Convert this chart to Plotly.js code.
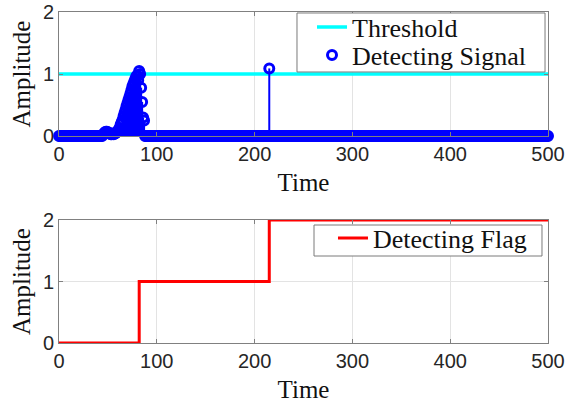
<!DOCTYPE html>
<html>
<head>
<meta charset="utf-8">
<script src="https://cdn.plot.ly/plotly-3.0.1.min.js"></script>
<style>html,body{margin:0;padding:0;background:#fff}#chart{width:565px;height:410px}</style>
</head>
<body>
<div id="chart"></div>
<script>
// ---- data ----
const timeStart = 0;
const timeEnd = 500;
// nonzero samples of the detecting signal (all other samples are 0)
const eventTime = [45,46,47,48,49,50,51,52,53,54,55,56,57,58,59,60,61,62,63,64,65,66,67,68,69,70,71,72,73,74,75,76,77,78,79,80,81,82,83,84,85,86,87,215];
const eventValue = [0.02,0.04,0.06,0.07,0.07,0.06,0.05,0.04,0.03,0.03,0.04,0.03,0.04,0.05,0.06,0.08,0.10,0.13,0.18,0.22,0.26,0.32,0.37,0.42,0.48,0.53,0.58,0.63,0.68,0.74,0.80,0.84,0.88,0.92,0.96,0.98,0.90,1.05,1.00,0.78,0.55,0.30,0.25,1.09];
const thresholdTime = [0, 500];
const thresholdValue = [1, 1];
const flagTime = [0, 82, 215, 500];
const flagValue = [0, 1, 2, 2];
const xTicks = [0, 100, 200, 300, 400, 500];
const yTicks = [0, 1, 2];

// ---- build full signal ----
const time = [];
const signal = [];
for (let t = timeStart; t <= timeEnd; t++) {
  time.push(t);
  const k = eventTime.indexOf(t);
  signal.push(k >= 0 ? eventValue[k] : 0);
}
const stemX = [], stemY = [];
for (let i = 0; i < time.length; i++) {
  if (signal[i] !== 0) { stemX.push(time[i], time[i], null); stemY.push(0, signal[i], null); }
}

const serif = "'Liberation Serif', 'Times New Roman', serif";
const sans = "'Liberation Sans', Arial, sans-serif";

const traces = [
  {x: thresholdTime, y: thresholdValue, type: 'scatter', mode: 'lines', name: 'Threshold',
   line: {color: '#00ffff', width: 3.5}, xaxis: 'x', yaxis: 'y', legend: 'legend'},
  {x: stemX, y: stemY, type: 'scatter', mode: 'lines', showlegend: false, hoverinfo: 'skip',
   line: {color: '#0000ff', width: 2}, xaxis: 'x', yaxis: 'y', cliponaxis: false},
  {x: time, y: signal, type: 'scatter', mode: 'markers', name: 'Detecting Signal',
   marker: {symbol: 'circle-open', size: 9, color: '#0000ff', line: {width: 3, color: '#0000ff'}},
   xaxis: 'x', yaxis: 'y', legend: 'legend3', cliponaxis: false},
  {x: flagTime, y: flagValue, type: 'scatter', mode: 'lines', name: 'Detecting Flag',
   line: {color: '#ff0000', width: 3, shape: 'hv'}, xaxis: 'x2', yaxis: 'y2', legend: 'legend2'}
];

function xAxis(anchor) {
  return {
    anchor: anchor, domain: [0, 1], range: [0, 500], tickvals: xTicks,
    showline: true, mirror: 'ticks', linecolor: '#808080', linewidth: 1,
    ticks: 'inside', ticklen: 4, tickcolor: '#808080',
    showgrid: true, gridcolor: '#e3e3e3', gridwidth: 1, zeroline: false,
    tickfont: {family: sans, size: 20, color: '#262626'},
    title: {text: 'Time', font: {family: serif, size: 25, color: '#111'}, standoff: 9},
    automargin: false
  };
}
function yAxis(anchor, domain) {
  return {
    anchor: anchor, domain: domain, range: [0, 2], tickvals: yTicks,
    showline: true, mirror: 'ticks', linecolor: '#808080', linewidth: 1,
    ticks: 'inside', ticklen: 4, tickcolor: '#808080',
    showgrid: true, gridcolor: '#e3e3e3', gridwidth: 1, zeroline: false,
    tickfont: {family: sans, size: 20, color: '#262626'},
    title: {text: 'Amplitude', font: {family: serif, size: 25, color: '#111'}, standoff: 5},
    automargin: false
  };
}

const legendFont = {family: serif, size: 26, color: '#111'};
function legendAt(x, y) {
  return {x: x, y: y, xanchor: 'left', yanchor: 'top', bgcolor: 'rgba(0,0,0,0)',
          borderwidth: 0, font: legendFont};
}

const layout = {
  width: 565, height: 410,
  margin: {l: 59, r: 17, t: 0, b: 67},
  paper_bgcolor: '#ffffff', plot_bgcolor: '#ffffff',
  showlegend: true,
  xaxis: xAxis('y'),
  yaxis: yAxis('x', [0.6035, 0.965]),
  xaxis2: xAxis('y2'),
  yaxis2: yAxis('x2', [0, 0.3586]),
  legend: legendAt(0.5174, 0.9898),
  legend3: legendAt(0.5174, 0.9082),
  legend2: legendAt(0.5603, 0.3746),
  shapes: [
    {type: 'rect', xref: 'paper', yref: 'paper', x0: 0.4867, x1: 0.9939, y0: 0.7901, y1: 0.9621,
     layer: 'above', fillcolor: '#ffffff', line: {color: '#7a7a7a', width: 1}},
    {type: 'rect', xref: 'paper', yref: 'paper', x0: 0.5215, x1: 0.9877, y0: 0.2536, y1: 0.344,
     layer: 'above', fillcolor: '#ffffff', line: {color: '#7a7a7a', width: 1}}
  ]
};

Plotly.newPlot('chart', traces, layout, {displayModeBar: false, staticPlot: true});
</script>
</body>
</html>
